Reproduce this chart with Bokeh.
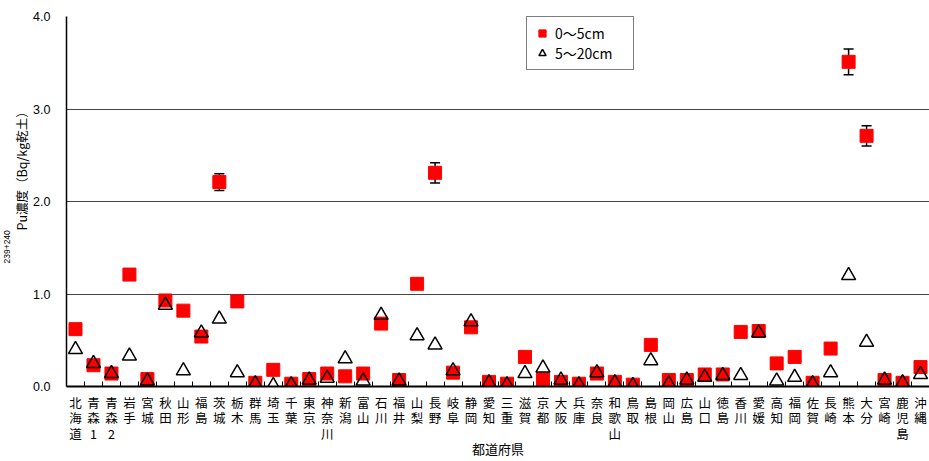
import math
from bokeh.plotting import figure
from bokeh.models import (Range1d, FixedTicker, Legend, LegendItem, Title, Whisker,
                          ColumnDataSource, PrintfTickFormatter, TeeHead)
from bokeh.embed import file_html
from bokeh.resources import INLINE

categories = ["北海道", "青森1", "青森2", "岩手", "宮城", "秋田", "山形", "福島", "茨城", "栃木",
              "群馬", "埼玉", "千葉", "東京", "神奈川", "新潟", "富山", "石川", "福井", "山梨",
              "長野", "岐阜", "静岡", "愛知", "三重", "滋賀", "京都", "大阪", "兵庫", "奈良",
              "和歌山", "鳥取", "島根", "岡山", "広島", "山口", "徳島", "香川", "愛媛", "高知",
              "福岡", "佐賀", "長崎", "熊本", "大分", "宮崎", "鹿児島", "沖縄"]

# 0~5cm
surface = [0.62, 0.23, 0.14, 1.21, 0.08, 0.93, 0.82, 0.54, 2.21, 0.92,
           0.04, 0.18, 0.03, 0.08, 0.14, 0.11, 0.14, 0.68, 0.07, 1.11,
           2.31, 0.15, 0.64, 0.05, 0.03, 0.32, 0.08, 0.05, 0.03, 0.14,
           0.05, 0.02, 0.45, 0.07, 0.07, 0.13, 0.13, 0.59, 0.60, 0.25,
           0.32, 0.04, 0.41, 3.51, 2.71, 0.07, 0.04, 0.21]
surface_err = [0, 0, 0, 0, 0, 0, 0, 0, 0.09, 0,
               0, 0, 0, 0, 0, 0, 0, 0, 0, 0,
               0.11, 0, 0, 0, 0, 0, 0, 0, 0, 0,
               0, 0, 0, 0, 0, 0, 0, 0, 0, 0,
               0, 0, 0, 0.14, 0.11, 0, 0, 0]
# 5~20cm
deep = [0.40, 0.25, 0.14, 0.33, 0.06, 0.88, 0.17, 0.58, 0.73, 0.15,
        0.03, 0.01, 0.02, 0.07, 0.09, 0.30, 0.06, 0.77, 0.06, 0.55,
        0.45, 0.17, 0.70, 0.04, 0.02, 0.14, 0.20, 0.07, 0.02, 0.15,
        0.04, 0.01, 0.28, 0.03, 0.07, 0.10, 0.12, 0.12, 0.58, 0.06,
        0.10, 0.03, 0.15, 1.20, 0.48, 0.07, 0.04, 0.13]

y_ticks = [0, 1, 2, 3, 4]
legend_labels = ["0〜5cm", "5〜20cm"]
x_title = "都道府県"
y_super = "239+240"
y_title = "Pu濃度（Bq/kg乾土）"

n = len(categories)
xs = [i + 0.5 for i in range(n)]

p = figure(width=929, height=461, output_backend="svg", toolbar_location=None,
           x_range=Range1d(0, n), y_range=Range1d(0, 4),
           min_border_left=66, min_border_right=0, min_border_top=16, min_border_bottom=75)
p.outline_line_color = None
p.background_fill_color = "white"
p.border_fill_color = "white"

# grid
p.xgrid.grid_line_color = None
p.ygrid.grid_line_color = "#444444"
p.ygrid.grid_line_width = 1

# x axis
xa = p.xaxis[0]
xa.ticker = FixedTicker(ticks=xs, minor_ticks=list(range(1, n)))
xa.major_label_overrides = {x: "\n".join(list(c)) for x, c in zip(xs, categories)}
xa.major_tick_in = 0
xa.major_tick_out = 0
xa.minor_tick_in = 5
xa.minor_tick_out = 0
xa.minor_tick_line_color = "black"
xa.axis_line_color = "black"
xa.axis_line_width = 2
xa.major_label_text_font = "Noto Sans CJK JP"
xa.major_label_text_font_size = "12.5px"
xa.major_label_text_line_height = 0.83
xa.major_label_text_color = "black"
xa.major_label_standoff = 6
xa.axis_label = x_title
xa.axis_label_text_font = "Noto Sans CJK JP"
xa.axis_label_text_font_size = "13px"
xa.axis_label_text_font_style = "normal"
xa.axis_label_text_color = "black"
xa.axis_label_standoff = -7

# y axis
ya = p.yaxis[0]
ya.ticker = FixedTicker(ticks=y_ticks)
ya.formatter = PrintfTickFormatter(format="%.1f")
ya.major_tick_in = 0
ya.major_tick_out = 0
ya.minor_tick_in = 0
ya.minor_tick_out = 0
ya.axis_line_color = "black"
ya.axis_line_width = 1.5
ya.major_label_text_font = "Liberation Sans"
ya.major_label_text_font_size = "12.5px"
ya.major_label_text_color = "black"
ya.major_label_standoff = 16

# error bars
err_idx = [i for i in range(n) if surface_err[i] > 0]
wsrc = ColumnDataSource(dict(
    x=[xs[i] for i in err_idx],
    lower=[surface[i] - surface_err[i] for i in err_idx],
    upper=[surface[i] + surface_err[i] for i in err_idx]))
w = Whisker(source=wsrc, base="x", lower="lower", upper="upper", dimension="height",
            line_color="black", line_width=1.5, level="underlay",
            upper_head=TeeHead(size=10, line_color="black", line_width=1.5),
            lower_head=TeeHead(size=10, line_color="black", line_width=1.5))
p.add_layout(w)

src = ColumnDataSource(dict(x=xs, surface=surface, deep=deep))
r1 = p.scatter("x", "surface", source=src, marker="square", size=13,
               fill_color="#ff0000", line_color="#ff0000")
r2 = p.scatter("x", "deep", source=src, marker="triangle", size=14,
               fill_color=None, line_color="black", line_width=1.5)

legend = Legend(items=[LegendItem(label=legend_labels[0], renderers=[r1]),
                       LegendItem(label=legend_labels[1], renderers=[r2])],
                location=(460, 316))
legend.border_line_color = "black"
legend.border_line_width = 1
legend.label_text_font = "Noto Sans CJK JP"
legend.label_text_font_size = "14px"
legend.label_text_color = "black"
legend.label_standoff = 4
legend.label_width = 72
legend.glyph_width = 18
legend.glyph_height = 18
legend.spacing = 0
legend.padding = 6
legend.margin = 0
legend.background_fill_alpha = 1
p.add_layout(legend)

# y axis title with superscript
t_main = Title(text=y_title, align="left", offset=156, standoff=0,
               text_font="Noto Sans CJK JP", text_font_size="12.5px",
               text_font_style="normal", text_color="black")
t_sup = Title(text=y_super, align="left", offset=123, standoff=0, vertical_align="bottom",
              text_font="Liberation Sans", text_font_size="8.5px",
              text_font_style="normal", text_color="black")
p.add_layout(t_main, "left")
p.add_layout(t_sup, "left")

open("out.html", "w").write(file_html(p, INLINE))
